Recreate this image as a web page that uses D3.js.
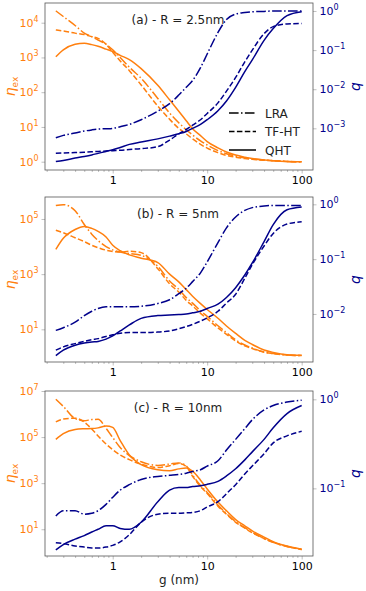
<!DOCTYPE html>
<html>
<head>
<meta charset="utf-8">
<script src="https://cdn.jsdelivr.net/npm/d3@7.9.0/dist/d3.min.js"></script>
<style>
  body { margin: 0; background: #fff; }
  svg { display: block; font-family: "DejaVu Sans", sans-serif; }
</style>
</head>
<body>
<svg id="chart" width="366" height="591"></svg>
<script>
// gap sizes g (nm), shared by every curve
const gap = [0.25, 0.3, 0.4, 0.5, 0.6, 0.7, 0.85, 1, 1.2, 1.5, 2, 3, 4, 5, 6, 7, 8.5, 10, 13, 16, 20, 25, 30, 40, 50, 70, 100];

// (a) R = 2.5nm
const etaQhtA = [1.05e3, 1.66e3, 2.4e3, 2.57e3, 2.34e3, 2.09e3, 1.74e3, 1.48e3, 1.15e3, 871, 479, 158, 60.3, 28.2, 15.1, 8.91, 5.62, 3.8, 2.51, 1.91, 1.55, 1.35, 1.23, 1.12, 1.07, 1.02, 1.0];
const etaTfA  = [6.17e3, 5.75e3, 5.01e3, 4.57e3, 3.98e3, 3.55e3, 2.4e3, 1.41e3, 794, 417, 162, 39.8, 16.6, 9.12, 6.31, 4.57, 3.16, 2.45, 1.82, 1.51, 1.35, 1.23, 1.17, 1.1, 1.07, 1.02, 1.0];
const etaLraA = [2.19e4, 1.51e4, 8.32e3, 5.01e3, 3.98e3, 3.16e3, 2.4e3, 1.66e3, 1.0e3, 525, 251, 66.1, 25.1, 13.2, 8.32, 5.89, 3.98, 3.02, 2.09, 1.7, 1.45, 1.29, 1.2, 1.12, 1.07, 1.02, 1.0];
const qQhtA = [1.41e-4, 1.51e-4, 1.74e-4, 1.91e-4, 2.09e-4, 2.29e-4, 2.57e-4, 2.82e-4, 3.24e-4, 3.89e-4, 4.47e-4, 5.37e-4, 6.31e-4, 7.24e-4, 8.32e-4, 1.0e-3, 1.26e-3, 1.66e-3, 2.82e-3, 5.01e-3, 1.12e-2, 2.82e-2, 5.62e-2, 0.178, 0.355, 0.759, 0.955];
const qTfA  = [2.29e-4, 2.34e-4, 2.4e-4, 2.45e-4, 2.51e-4, 2.57e-4, 2.63e-4, 2.69e-4, 2.75e-4, 2.88e-4, 3.02e-4, 3.39e-4, 5.01e-4, 7.24e-4, 9.33e-4, 1.2e-3, 1.66e-3, 2.4e-3, 4.47e-3, 8.91e-3, 2.0e-2, 5.01e-2, 0.1, 0.263, 0.398, 0.468, 0.479];
const qLraA = [5.75e-4, 6.61e-4, 7.59e-4, 8.51e-4, 9.12e-4, 9.55e-4, 9.77e-4, 1.0e-3, 1.1e-3, 1.26e-3, 1.66e-3, 2.75e-3, 4.27e-3, 7.08e-3, 1.12e-2, 1.66e-2, 3.55e-2, 7.94e-2, 0.282, 0.603, 0.832, 0.912, 0.955, 0.977, 1.0, 1.0, 1.0];

// (b) R = 5nm
const etaQhtB = [7.94e3, 2.0e4, 4.17e4, 5.37e4, 4.57e4, 3.55e4, 2.24e4, 1.12e4, 7.08e3, 5.01e3, 3.8e3, 2.63e3, 1.0e3, 525, 275, 158, 85.1, 52.5, 25.1, 13.2, 7.08, 3.98, 2.82, 1.78, 1.45, 1.2, 1.15];
const etaTfB  = [3.89e4, 3.16e4, 2.09e4, 1.51e4, 1.12e4, 9.12e3, 7.41e3, 6.61e3, 6.31e3, 6.76e3, 6.03e3, 1.58e3, 447, 224, 112, 70.8, 38.0, 24.0, 11.2, 6.61, 3.8, 2.51, 2.0, 1.48, 1.32, 1.17, 1.12];
const etaLraB = [3.09e5, 3.31e5, 2.0e5, 6.31e4, 2.82e4, 1.66e4, 1.0e4, 7.59e3, 6.31e3, 5.62e3, 4.79e3, 1.91e3, 562, 282, 141, 89.1, 46.8, 29.5, 13.5, 7.59, 4.17, 2.69, 2.09, 1.51, 1.32, 1.17, 1.12];
const qQhtB = [1.74e-3, 2.19e-3, 2.69e-3, 2.95e-3, 3.09e-3, 3.16e-3, 3.47e-3, 3.98e-3, 4.9e-3, 6.31e-3, 8.32e-3, 9.33e-3, 9.55e-3, 9.77e-3, 1.0e-2, 1.05e-2, 1.12e-2, 1.26e-2, 1.51e-2, 2.0e-2, 3.02e-2, 5.13e-2, 8.51e-2, 0.209, 0.427, 0.794, 0.891];
const qTfB  = [2.19e-3, 2.51e-3, 2.88e-3, 3.16e-3, 3.39e-3, 3.55e-3, 3.89e-3, 4.17e-3, 4.47e-3, 4.57e-3, 4.57e-3, 4.68e-3, 4.9e-3, 5.37e-3, 5.89e-3, 6.46e-3, 7.41e-3, 8.51e-3, 1.12e-2, 1.58e-2, 2.29e-2, 4.47e-2, 7.94e-2, 0.174, 0.295, 0.437, 0.479];
const qLraB = [5.01e-3, 5.62e-3, 7.08e-3, 9.33e-3, 1.12e-2, 1.26e-2, 1.35e-2, 1.35e-2, 1.35e-2, 1.35e-2, 1.38e-2, 1.55e-2, 1.82e-2, 2.34e-2, 2.95e-2, 3.89e-2, 5.62e-2, 8.91e-2, 0.2, 0.372, 0.589, 0.776, 0.871, 0.933, 0.955, 0.955, 0.955];

// (c) R = 10nm
const etaQhtC = [7.94e4, 1.41e5, 2.14e5, 2.29e5, 2.34e5, 2.51e5, 3.02e5, 2.63e5, 7.08e4, 1.66e4, 6.31e3, 3.8e3, 3.47e3, 4.17e3, 4.57e3, 3.31e3, 1.35e3, 562, 151, 63.1, 26.3, 14.1, 8.51, 4.57, 2.88, 1.86, 1.35];
const etaTfC  = [4.57e5, 6.03e5, 6.61e5, 4.47e5, 2.24e5, 1.12e5, 5.01e4, 2.82e4, 1.66e4, 1.05e4, 6.61e3, 4.79e3, 5.75e3, 7.08e3, 5.25e3, 2.0e3, 708, 355, 100, 44.7, 20.0, 11.2, 7.08, 3.98, 2.69, 1.78, 1.32];
const etaLraC = [4.37e6, 2.14e6, 6.31e5, 5.13e5, 5.75e5, 5.89e5, 2.4e5, 9.55e4, 3.55e4, 1.58e4, 8.51e3, 5.89e3, 6.76e3, 7.59e3, 5.62e3, 2.24e3, 794, 398, 112, 47.9, 21.4, 11.7, 7.41, 3.98, 2.69, 1.78, 1.32];
const qQhtC = [2.04e-2, 2.34e-2, 2.69e-2, 2.95e-2, 3.24e-2, 3.47e-2, 3.8e-2, 3.8e-2, 3.55e-2, 3.47e-2, 4.17e-2, 7.08e-2, 9.55e-2, 0.102, 0.102, 0.105, 0.107, 0.111, 0.12, 0.138, 0.166, 0.209, 0.257, 0.355, 0.479, 0.692, 0.851];
const qTfC  = [2.45e-2, 2.4e-2, 2.26e-2, 2.19e-2, 2.14e-2, 2.14e-2, 2.19e-2, 2.29e-2, 2.51e-2, 3.02e-2, 4.17e-2, 5.13e-2, 5.25e-2, 5.25e-2, 5.31e-2, 5.37e-2, 5.62e-2, 6.17e-2, 7.08e-2, 8.71e-2, 0.11, 0.145, 0.178, 0.245, 0.324, 0.389, 0.437];
const qLraC = [4.9e-2, 5.62e-2, 5.62e-2, 5.13e-2, 5.25e-2, 5.62e-2, 6.61e-2, 7.94e-2, 9.55e-2, 0.11, 0.126, 0.136, 0.14, 0.143, 0.148, 0.155, 0.162, 0.178, 0.204, 0.269, 0.355, 0.468, 0.589, 0.759, 0.851, 0.933, 0.977];

const titles = ['(a) - R = 2.5nm', '(b) - R = 5nm', '(c) - R = 10nm'];
const methods = ['LRA', 'TF-HT', 'QHT'];
const xTicks = [1, 10, 100];
const etaTicks = [[1, 10, 100, 1e3, 1e4], [10, 1e3, 1e5], [10, 1e3, 1e5, 1e7]];
const qTicks = [[1e-3, 1e-2, 1e-1, 1], [1e-2, 1e-1, 1], [1e-1, 1]];

const ORANGE = '#ff7f0e';
const NAVY = '#00008b';
const dashes = { 'LRA': '9.6,2.4,1.5,2.4', 'TF-HT': '5.5,2.4', 'QHT': null };

const svg = d3.select('#chart');
const left = 45, right = 313;

const x = d3.scaleLog().domain([0.192, 131.8]).range([left, right]);

const panels = [
  { top: 3, bottom: 170, etaDom: [0.577, 36900], qDom: [8.6e-5, 1.6],
    eta: { 'LRA': etaLraA, 'TF-HT': etaTfA, 'QHT': etaQhtA },
    q: { 'LRA': qLraA, 'TF-HT': qTfA, 'QHT': qQhtA } },
  { top: 197, bottom: 362, etaDom: [0.653, 6.27e5], qDom: [1.33e-3, 1.36],
    eta: { 'LRA': etaLraB, 'TF-HT': etaTfB, 'QHT': etaQhtB },
    q: { 'LRA': qLraB, 'TF-HT': qTfB, 'QHT': qQhtB } },
  { top: 391, bottom: 556, etaDom: [0.69, 1.0e7], qDom: [0.0174, 1.24],
    eta: { 'LRA': etaLraC, 'TF-HT': etaTfC, 'QHT': etaQhtC },
    q: { 'LRA': qLraC, 'TF-HT': qTfC, 'QHT': qQhtC } }
];

// write 10^n as "10" with a raised exponent
function powerLabel(sel) {
  sel.each(function(d) {
    const t = d3.select(this);
    const e = Math.round(Math.log10(d));
    t.text('10');
    t.append('tspan').attr('dy', -5).attr('font-size', 8)
      .text(e < 0 ? '\u2212' + (-e) : e);
  });
}

const minorX = [];
[0.1, 1, 10].forEach(b => { for (let k = 2; k <= 9; k++) minorX.push(b * k); });

panels.forEach((p, i) => {
  const yL = d3.scaleLog().domain(p.etaDom).range([p.bottom, p.top]);
  const yR = d3.scaleLog().domain(p.qDom).range([p.bottom, p.top]);
  const g = svg.append('g');

  // x axis minor + major ticks
  const xa = g.append('g').attr('transform', `translate(0,${p.bottom})`);
  xa.call(d3.axisBottom(x).tickValues(minorX.filter(v => v > 0.192 && v < 131.8)).tickSize(2).tickFormat(''));
  xa.append('g').call(d3.axisBottom(x).tickValues(xTicks).tickSize(3.5).tickPadding(3).tickFormat(d3.format('d')));
  xa.selectAll('.domain').remove();
  xa.selectAll('line').attr('stroke', '#b0b0b0').attr('stroke-width', 0.8);
  xa.selectAll('text').attr('font-size', 11).attr('fill', '#000').attr('font-family', '"DejaVu Sans", sans-serif');

  // left axis (eta)
  const la = g.append('g').attr('transform', `translate(${left},0)`)
    .call(d3.axisLeft(yL).tickValues(etaTicks[i]).tickSize(3.5).tickPadding(3));
  la.select('.domain').remove();
  la.selectAll('line').attr('stroke', '#b0b0b0').attr('stroke-width', 0.8);
  la.selectAll('text').attr('font-size', 11).attr('fill', ORANGE)
    .attr('font-family', '"DejaVu Sans", sans-serif').call(powerLabel);

  // right axis (q)
  const ra = g.append('g').attr('transform', `translate(${right},0)`)
    .call(d3.axisRight(yR).tickValues(qTicks[i]).tickSize(3.5).tickPadding(3));
  ra.select('.domain').remove();
  ra.selectAll('line').attr('stroke', '#b0b0b0').attr('stroke-width', 0.8);
  ra.selectAll('text').attr('font-size', 11).attr('fill', NAVY)
    .attr('font-family', '"DejaVu Sans", sans-serif').call(powerLabel);

  // curves
  methods.forEach(m => {
    const line = d3.line().x((d, k) => x(gap[k])).curve(d3.curveMonotoneX);
    g.append('path').datum(p.eta[m])
      .attr('d', line.y(d => yL(d)))
      .attr('fill', 'none').attr('stroke', ORANGE).attr('stroke-width', 1.5)
      .attr('stroke-dasharray', dashes[m]);
  });
  methods.forEach(m => {
    const line = d3.line().x((d, k) => x(gap[k])).curve(d3.curveMonotoneX);
    g.append('path').datum(p.q[m])
      .attr('d', line.y(d => yR(d)))
      .attr('fill', 'none').attr('stroke', NAVY).attr('stroke-width', 1.5)
      .attr('stroke-dasharray', dashes[m]);
  });

  // frame
  g.append('rect').attr('x', left).attr('y', p.top)
    .attr('width', right - left).attr('height', p.bottom - p.top)
    .attr('fill', 'none').attr('stroke', '#555').attr('stroke-width', 0.8);

  // title
  g.append('text').attr('x', 178).attr('y', p.top + 21)
    .attr('text-anchor', 'middle').attr('font-size', 12).attr('fill', '#222')
    .text(titles[i]);

  // axis labels
  const mid = (p.top + p.bottom) / 2;
  const yl = g.append('text').attr('transform', `translate(15,${mid}) rotate(-90)`)
    .attr('text-anchor', 'middle').attr('fill', ORANGE).attr('font-size', 14);
  yl.append('tspan').attr('font-style', 'italic').text('\u03b7');
  yl.append('tspan').attr('font-size', 9).attr('dy', 3).text('ex');
  g.append('text').attr('transform', `translate(360,${mid}) rotate(-90)`)
    .attr('text-anchor', 'middle').attr('fill', NAVY).attr('font-size', 14)
    .attr('font-style', 'italic').text('q');

  // legend in the first panel
  if (i === 0) {
    const lg = g.append('g');
    methods.forEach((m, k) => {
      const yy = p.top + 110 + k * 18.5;
      lg.append('line').attr('x1', 229).attr('x2', 256).attr('y1', yy).attr('y2', yy)
        .attr('stroke', '#000').attr('stroke-width', 1.5).attr('stroke-dasharray', dashes[m]);
      lg.append('text').attr('x', 265).attr('y', yy + 4.5).attr('font-size', 12).attr('fill', '#222').text(m);
    });
  }
});

svg.append('text').attr('x', 179).attr('y', 584).attr('text-anchor', 'middle')
  .attr('font-size', 12).attr('fill', '#222').text('g (nm)');
</script>
</body>
</html>
